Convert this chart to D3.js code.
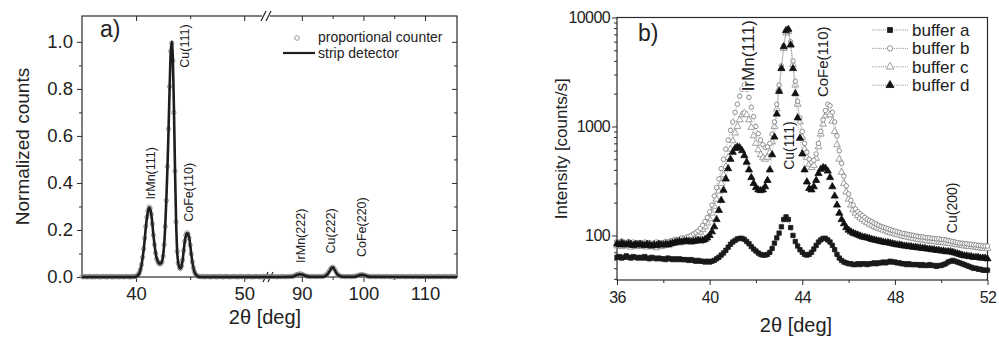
<!DOCTYPE html>
<html>
<head>
<meta charset="utf-8">
<script src="https://cdn.jsdelivr.net/npm/d3@7"></script>
<style>
  body { margin: 0; background: #fff; }
  text { font-family: "Liberation Sans", Arial, sans-serif; fill: #222; }
</style>
</head>
<body>
<div id="chart"></div>
<script>
// ---------- panel a) data ----------
// strip detector curve, [2theta, normalized counts]
var stripLeft = [[35, 0], [39.9, 0], [40.0, .002], [40.1, .004], [40.2, .008], [40.3, .015], [40.4, .03], [40.5, .05],
  [40.6, .08], [40.7, .115], [40.8, .16], [40.9, .21], [41.0, .25], [41.1, .28], [41.2, .295], [41.3, .29], [41.4, .27],
  [41.5, .23], [41.6, .18], [41.7, .14], [41.8, .105], [41.9, .08], [42.0, .068], [42.1, .06], [42.2, .057], [42.3, .058],
  [42.4, .066], [42.5, .09], [42.6, .14], [42.7, .22], [42.8, .33], [42.9, .46], [43.0, .62], [43.1, .8], [43.2, .95],
  [43.3, 1.0], [43.4, .93], [43.5, .72], [43.6, .46], [43.7, .24], [43.8, .11], [43.9, .06], [44.0, .042], [44.1, .036],
  [44.2, .045], [44.3, .07], [44.4, .11], [44.5, .15], [44.6, .175], [44.7, .186], [44.8, .185], [44.9, .17], [45.0, .14],
  [45.1, .1], [45.2, .066], [45.3, .04], [45.4, .022], [45.5, .012], [45.6, .006], [45.7, .003], [45.8, .001], [46.0, 0], [52.2, 0]];
var stripRight = [[84.5, 0], [88.4, .001], [88.8, .004], [89.2, .009], [89.6, .012], [90.0, .011], [90.4, .007], [90.8, .003],
  [91.4, .001], [93.4, .001], [93.8, .004], [94.2, .012], [94.5, .025], [94.8, .038], [95.0, .041], [95.2, .036], [95.5, .022],
  [95.8, .01], [96.2, .004], [96.8, .001], [98.6, .001], [99.0, .004], [99.4, .008], [99.8, .009], [100.2, .007], [100.6, .003],
  [101.2, .001], [115.2, 0]];

// proportional counter, left part: 35.0 .. 52.2 in 0.1 deg steps
var counterLeftStart = 35, counterLeftStep = 0.1;
var counterLeft = [
  .002, 0, .003, .001, .002, 0, .001, .003, .002, 0,
  .001, .002, 0, .003, .001, .002, .001, 0, .002, .001,
  .003, .001, .002, 0, .001, .002, .003, .001, 0, .002,
  .001, .002, .001, .003, 0, .002, .001, .002, .001, 0,
  .002, .003, .001, .002, 0, .001, .002, .001, .003, .002,
  .004, .006, .01, .018, .032, .052, .083, .12, .165, .215,
  .255, .283, .298, .292, .268, .226, .178, .138, .102, .078,
  .066, .058, .055, .057, .065, .088, .138, .215, .325, .47,
  .63, .81, .96, .995, .92, .7, .45, .235, .108, .058,
  .04, .035, .046, .072, .112, .152, .178, .188, .183, .166,
  .136, .098, .064, .039, .022, .012, .007, .004, .003, .002,
  .001, .003, .002, 0, .002, .001, .003, .002, .001, 0,
  .002, .001, .003, .002, 0, .001, .002, .003, .001, .002,
  .001, 0, .002, .003, .001, .002, .001, 0, .002, .001,
  .003, .002, .001, .002, 0, .001, .003, .002, .001, .002,
  .002, .001, 0, .002, .003, .001, .002, .001, 0, .002,
  .001, .003, .002, .001, .002, 0, .001, .002, .003, .001,
  .002, .001, .002];

// proportional counter, right part: 84.5 .. 115.0 in 0.25 deg steps
var counterRightStart = 84.5, counterRightStep = 0.25;
var counterRight = [
  .002, .001, .003, .002, .001, .002, 0, .002, .001, .003,
  .002, .001, .002, .001, .003, .002, .003, .005, .008, .011,
  .013, .013, .012, .009, .006, .004, .003, .002, .001, .003,
  .002, .001, .002, .003, .001, .002, .003, .006, .01, .018,
  .028, .038, .042, .036, .024, .013, .007, .004, .002, .003,
  .001, .002, .003, .002, .001, .002, .003, .004, .006, .008,
  .009, .01, .009, .007, .005, .003, .002, .001, .003, .002,
  .001, .002, .003, .001, .002, .002, .001, .003, .002, .001,
  .002, 0, .002, .003, .001, .002, .001, .003, .002, .001,
  .002, .001, .003, .002, .001, .002, .003, .001, .002, .001,
  .002, .003, .001, .002, .001, .002, .003, .001, .002, .001,
  .003, .002, .001, .002, .001, .003, .002, .001, .002, .003,
  .002, .001, .003];

var yTicksA = [0, 0.2, 0.4, 0.6, 0.8, 1.0];
var xTicksALeft = [40, 50];
var xTicksARight = [90, 100, 110];
var peakLabelsA = [
  { text: "IrMn(111)", x: 41.4, y: 0.33 },
  { text: "Cu(111)", x: 44.55, y: 0.89 },
  { text: "CoFe(110)", x: 44.85, y: 0.235 },
  { text: "IrMn(222)", x: 89.8, y: 0.06 },
  { text: "Cu(222)", x: 94.8, y: 0.1 },
  { text: "CoFe(220)", x: 99.7, y: 0.085 }
];

// ---------- panel b) data ----------
// 2theta from 36.0 to 52.0 in 0.1 deg steps, intensity in counts/s
var angleStart = 36, angleStep = 0.1;
var bufferA = [
  63, 64, 62, 63, 65, 63, 62, 64, 63, 62,
  63, 62, 64, 62, 61, 63, 62, 61, 62, 61,
  61, 60, 62, 61, 60, 61, 60, 61, 60, 60,
  60, 59, 60, 59, 58, 59, 58, 58, 57, 58,
  57, 58, 59, 61, 63, 66, 69, 73, 78, 83,
  87, 90, 93, 94, 94, 92, 88, 84, 79, 75,
  72, 69, 67, 66, 66, 67, 70, 76, 85, 95,
  105, 120, 140, 148, 140, 118, 100, 88, 80, 74,
  70, 67, 66, 67, 70, 75, 81, 87, 91, 94,
  94, 91, 87, 81, 74, 67, 62, 59, 57, 56,
  55, 55, 54, 54, 55, 54, 55, 55, 54, 55,
  55, 56, 55, 56, 56, 57, 56, 57, 58, 57,
  57, 56, 56, 55, 55, 54, 55, 54, 54, 54,
  54, 53, 54, 53, 53, 54, 53, 53, 52, 53,
  53, 54, 55, 57, 58, 59, 58, 57, 56, 55,
  54, 53, 52, 51, 50, 50, 49, 49, 48, 48,
  48];
var bufferB = [
  88, 86, 89, 87, 85, 88, 86, 87, 85, 86,
  86, 84, 87, 85, 86, 84, 85, 87, 86, 85,
  86, 88, 87, 89, 90, 92, 91, 93, 95, 94,
  96, 98, 100, 103, 106, 110, 116, 124, 134, 146,
  165, 190, 230, 275, 330, 410, 500, 620, 750, 920,
  1100, 1350, 1600, 1900, 2200, 2400, 2200, 1850, 1500, 1230,
  1000, 860, 750, 680, 640, 650, 700, 850, 1100, 1600,
  2400, 3600, 5500, 7500, 7700, 6000, 4000, 2600, 1700, 1200,
  900, 700, 580, 500, 470, 490, 560, 700, 900, 1150,
  1400, 1600, 1550, 1350, 1100, 820, 600, 460, 350, 285,
  240, 210, 190, 175, 165, 158, 152, 146, 141, 137,
  134, 130, 127, 124, 121, 119, 117, 115, 113, 111,
  110, 108, 107, 105, 104, 103, 102, 101, 100, 99,
  98, 97, 97, 96, 95, 95, 94, 94, 93, 93,
  92, 92, 91, 90, 89, 88, 87, 86, 85, 85,
  84, 84, 83, 83, 82, 82, 81, 81, 80, 80,
  80];
var bufferC = [
  80, 82, 79, 81, 83, 80, 78, 81, 79, 80,
  81, 79, 80, 78, 80, 82, 79, 77, 80, 79,
  80, 81, 83, 82, 84, 85, 86, 85, 87, 88,
  89, 90, 92, 95, 98, 102, 107, 113, 120, 130,
  142, 160, 185, 215, 255, 300, 360, 430, 520, 620,
  740, 870, 1000, 1150, 1280, 1330, 1280, 1150, 980, 820,
  700, 610, 550, 515, 500, 520, 580, 720, 1000, 1450,
  2200, 3400, 5200, 7200, 7400, 5600, 3700, 2400, 1600, 1100,
  800, 620, 520, 450, 420, 440, 510, 650, 850, 1050,
  1250, 1350, 1280, 1120, 900, 680, 500, 380, 300, 250,
  215, 190, 172, 160, 152, 145, 140, 135, 131, 127,
  124, 121, 118, 116, 114, 112, 110, 108, 106, 105,
  103, 102, 101, 99, 98, 97, 96, 95, 94, 93,
  92, 91, 91, 90, 89, 89, 88, 88, 87, 87,
  86, 86, 85, 85, 84, 84, 83, 82, 82, 81,
  80, 80, 79, 79, 78, 78, 77, 77, 76, 76,
  76];
var bufferD = [
  84, 82, 85, 83, 82, 84, 83, 81, 83, 82,
  83, 82, 81, 83, 82, 80, 82, 81, 83, 82,
  82, 83, 82, 84, 85, 86, 87, 88, 87, 88,
  89, 88, 87, 88, 89, 90, 89, 90, 92, 95,
  100, 108, 120, 140, 170, 210, 260, 330, 410, 500,
  580, 630, 650, 640, 600, 540, 470, 400, 340, 300,
  275, 262, 258, 262, 280, 320, 400, 550, 800, 1300,
  2100, 3400, 5400, 7600, 7800, 5600, 3400, 2000, 1200, 780,
  560, 400, 310, 270, 262, 280, 320, 370, 405, 420,
  415, 390, 340, 280, 230, 190, 160, 140, 128, 118,
  112, 108, 105, 103, 101, 99, 97, 96, 95, 94,
  92, 91, 90, 89, 88, 87, 86, 86, 85, 84,
  83, 82, 82, 81, 80, 80, 79, 79, 78, 78,
  77, 77, 76, 76, 75, 75, 74, 74, 73, 73,
  72, 72, 71, 71, 71, 70, 69, 68, 67, 66,
  65, 65, 64, 64, 63, 63, 63, 62, 62, 62,
  61];

var seriesNamesB = ["buffer a", "buffer b", "buffer c", "buffer d"];
var xTicksB = [36, 40, 44, 48, 52];
var yTicksB = [100, 1000, 10000];
var peakLabelsB = [
  { text: "IrMn(111)", x: 41.66, y: 2100, size: 17 },
  { text: "Cu(111)", x: 43.43, y: 400, size: 14 },
  { text: "CoFe(110)", x: 44.9, y: 1860, size: 15 },
  { text: "Cu(200)", x: 50.46, y: 105, size: 14 }
];

// ---------- svg ----------
var svgWidth = 999, svgHeight = 344;
var svg = d3.select("#chart").append("svg")
  .attr("width", svgWidth)
  .attr("height", svgHeight);

var ink = "#2a2a2a";

// ================= panel a =================
var frameA = { left: 82, right: 457, top: 16, bottom: 277 };
var breakX = 268;

var xLeft = d3.scaleLinear().domain([35, 52.2]).range([frameA.left, breakX]);
var xRight = d3.scaleLinear().domain([84.5, 115.2]).range([breakX, frameA.right]);
var yA = d3.scaleLinear().domain([0, 1.11]).range([frameA.bottom, frameA.top]);

var gA = svg.append("g");

// axes
var leftAxisA = d3.axisLeft(yA).tickValues(yTicksA).tickFormat(d3.format(".1f")).tickSize(5).tickPadding(4);
gA.append("g").attr("transform", `translate(${frameA.left},0)`).call(leftAxisA);
gA.append("g").attr("transform", `translate(${frameA.left},0)`)
  .call(d3.axisLeft(yA).tickValues(d3.range(0.1, 1.1, 0.2)).tickSize(3).tickFormat(""));
gA.append("g").attr("transform", `translate(${frameA.right},0)`)
  .call(d3.axisLeft(yA).tickValues(yTicksA).tickSize(5).tickFormat(""));
gA.append("g").attr("transform", `translate(${frameA.right},0)`)
  .call(d3.axisLeft(yA).tickValues(d3.range(0.1, 1.1, 0.2)).tickSize(3).tickFormat(""));

[[xLeft, xTicksALeft, [45]], [xRight, xTicksARight, [95, 105]]].forEach(function(p) {
  gA.append("g").attr("transform", `translate(0,${frameA.bottom})`)
    .call(d3.axisBottom(p[0]).tickValues(p[1]).tickSize(5).tickPadding(5));
  gA.append("g").attr("transform", `translate(0,${frameA.bottom})`)
    .call(d3.axisBottom(p[0]).tickValues(p[2]).tickSize(3).tickFormat(""));
  gA.append("g").attr("transform", `translate(0,${frameA.top})`)
    .call(d3.axisBottom(p[0]).tickValues(p[1]).tickSize(5).tickFormat(""));
  gA.append("g").attr("transform", `translate(0,${frameA.top})`)
    .call(d3.axisBottom(p[0]).tickValues(p[2]).tickSize(3).tickFormat(""));
});

gA.selectAll(".domain").remove();
gA.selectAll(".tick line").attr("stroke", ink);
gA.selectAll(".tick text").attr("font-size", 18.5).attr("fill", ink)
  .style("font-family", "'Liberation Sans', Arial, sans-serif");

// frame with broken x axis
gA.append("rect")
  .attr("x", frameA.left).attr("y", frameA.top)
  .attr("width", frameA.right - frameA.left).attr("height", frameA.bottom - frameA.top)
  .attr("fill", "none").attr("stroke", ink).attr("stroke-width", 1.2);
[[frameA.top, -2], [frameA.bottom, 0]].forEach(function(b) {
  var cx = breakX + b[1];
  gA.append("rect").attr("x", cx - 4).attr("y", b[0] - 2).attr("width", 8).attr("height", 4).attr("fill", "#fff");
  [-2.5, 2.5].forEach(function(off) {
    gA.append("line")
      .attr("x1", cx + off - 2.5).attr("y1", b[0] + 5)
      .attr("x2", cx + off + 2.5).attr("y2", b[0] - 5)
      .attr("stroke", ink).attr("stroke-width", 1.2);
  });
});

// proportional counter markers
var counterPts = counterLeft.map(function(v, i) { return [counterLeftStart + i * counterLeftStep, v, xLeft]; })
  .concat(counterRight.map(function(v, i) { return [counterRightStart + i * counterRightStep, v, xRight]; }))
  .filter(function(d) { return d[0] <= d[2].domain()[1] + 1e-6; });

gA.append("g").selectAll("circle")
  .data(counterPts)
  .enter().append("circle")
  .attr("cx", d => d[2](d[0]))
  .attr("cy", d => yA(d[1]))
  .attr("r", 2.1)
  .attr("fill", "none")
  .attr("stroke", "#8a8a8a")
  .attr("stroke-width", 0.9);

// strip detector line
[[stripLeft, xLeft], [stripRight, xRight]].forEach(function(p) {
  var line = d3.line().x(d => p[1](d[0])).y(d => yA(d[1])).curve(d3.curveMonotoneX);
  gA.append("path").datum(p[0])
    .attr("d", line)
    .attr("fill", "none")
    .attr("stroke", "#1e1e1e")
    .attr("stroke-width", 2.6)
    .attr("stroke-linejoin", "round");
});

// peak labels
gA.selectAll(".peakA")
  .data(peakLabelsA)
  .enter().append("text")
  .attr("class", "peakA")
  .attr("transform", d => `translate(${(d.x < 70 ? xLeft : xRight)(d.x) + 4},${yA(d.y)}) rotate(-90)`)
  .attr("font-size", 12.5)
  .text(d => d.text);

// legend
gA.append("circle").attr("cx", 297).attr("cy", 38).attr("r", 2.3)
  .attr("fill", "none").attr("stroke", "#8a8a8a").attr("stroke-width", 0.9);
gA.append("text").attr("x", 318).attr("y", 42).attr("font-size", 14).text("proportional counter");
gA.append("line").attr("x1", 283).attr("x2", 315).attr("y1", 53).attr("y2", 53)
  .attr("stroke", "#1e1e1e").attr("stroke-width", 2.2);
gA.append("text").attr("x", 318).attr("y", 58).attr("font-size", 14).text("strip detector");

gA.append("text").attr("x", 100).attr("y", 37).attr("font-size", 23).text("a)");

// axis titles
gA.append("text")
  .attr("transform", `translate(29,${(frameA.top + frameA.bottom) / 2}) rotate(-90)`)
  .attr("text-anchor", "middle")
  .attr("font-size", 19)
  .text("Normalized counts");
gA.append("text")
  .attr("x", 265).attr("y", 324)
  .attr("text-anchor", "middle")
  .attr("font-size", 20)
  .text("2θ [deg]");

// ================= panel b =================
var frameB = { left: 617, right: 987.5, top: 17.5, bottom: 280 };
var xB = d3.scaleLinear().domain([36, 52]).range([frameB.left, frameB.right]);
var yB = d3.scaleLog().domain([39, 10000]).range([frameB.bottom, frameB.top]);

var gB = svg.append("g");

gB.append("g").attr("transform", `translate(0,${frameB.bottom})`)
  .call(d3.axisBottom(xB).tickValues(xTicksB).tickSize(5).tickPadding(7));
gB.append("g").attr("transform", `translate(0,${frameB.bottom})`)
  .call(d3.axisBottom(xB).tickValues([38, 42, 46, 50]).tickSize(3).tickFormat(""));
gB.append("g").attr("transform", `translate(${frameB.left},0)`)
  .call(d3.axisLeft(yB).tickValues(yTicksB).tickFormat(d3.format("d")).tickSize(5).tickPadding(2));
var minorB = [];
[10, 100, 1000].forEach(function(dec) {
  for (var k = 2; k <= 9; k++) if (dec * k >= 39 && dec * k < 10000) minorB.push(dec * k);
});
gB.append("g").attr("transform", `translate(${frameB.left},0)`)
  .call(d3.axisLeft(yB).tickValues(minorB).tickSize(3).tickFormat(""));

gB.selectAll(".domain").remove();
gB.selectAll(".tick line").attr("stroke", ink);
gB.selectAll(".tick text").attr("fill", ink).attr("font-size", 16).attr("letter-spacing", -0.6)
  .style("font-family", "'Liberation Sans', Arial, sans-serif");

gB.append("rect")
  .attr("x", frameB.left).attr("y", frameB.top)
  .attr("width", frameB.right - frameB.left).attr("height", frameB.bottom - frameB.top)
  .attr("fill", "none").attr("stroke", ink).attr("stroke-width", 1.2);

var styles = [
  { data: bufferA, symbol: d3.symbolSquare, size: 19, fill: "#1a1a1a", stroke: "#1a1a1a" },
  { data: bufferB, symbol: d3.symbolCircle, size: 16, fill: "#fff", stroke: "#777" },
  { data: bufferC, symbol: d3.symbolTriangle, size: 20, fill: "#fff", stroke: "#8a8a8a" },
  { data: bufferD, symbol: d3.symbolTriangle, size: 22, fill: "#111", stroke: "#111" }
];

var plotB = gB.append("g");
[2, 1, 3, 0].forEach(function(si) {
  var s = styles[si];
  var pts = s.data.map(function(v, i) { return [angleStart + i * angleStep, v]; });
  var line = d3.line().x(d => xB(d[0])).y(d => yB(d[1]));
  plotB.append("path").datum(pts)
    .attr("d", line)
    .attr("fill", "none")
    .attr("stroke", "#777")
    .attr("stroke-width", 0.6)
    .attr("stroke-dasharray", "1,1.5");
  plotB.append("g").selectAll("path")
    .data(pts)
    .enter().append("path")
    .attr("transform", d => `translate(${xB(d[0])},${yB(d[1])})`)
    .attr("d", d3.symbol().type(s.symbol).size(s.size))
    .attr("fill", s.fill)
    .attr("stroke", s.stroke)
    .attr("stroke-width", 0.8);
});

// peak labels (white halo so they read over the markers)
gB.selectAll(".peakB")
  .data(peakLabelsB)
  .enter().append("text")
  .attr("class", "peakB")
  .attr("transform", d => `translate(${xB(d.x) + d.size * 0.36},${yB(d.y)}) rotate(-90)`)
  .attr("font-size", d => d.size)
  .attr("stroke", "#fff")
  .attr("stroke-width", 2.5)
  .attr("paint-order", "stroke")
  .text(d => d.text);

// legend
var legB = gB.append("g").selectAll("g")
  .data(seriesNamesB)
  .enter().append("g")
  .attr("transform", (d, i) => `translate(872,${30 + i * 18.4})`);
legB.append("line")
  .attr("x1", 0).attr("x2", 36)
  .attr("stroke", "#555").attr("stroke-width", 0.7).attr("stroke-dasharray", "1,1.2");
legB.append("path")
  .attr("transform", "translate(18,0)")
  .attr("d", (d, i) => d3.symbol().type(styles[i].symbol).size(styles[i].size + 6)())
  .attr("fill", (d, i) => styles[i].fill)
  .attr("stroke", (d, i) => styles[i].stroke)
  .attr("stroke-width", 0.8);
legB.append("text")
  .attr("x", 40).attr("y", 6)
  .attr("font-size", 17)
  .text(d => d);

gB.append("text").attr("x", 638).attr("y", 41).attr("font-size", 23).text("b)");

gB.append("text")
  .attr("transform", `translate(567,${(frameB.top + frameB.bottom) / 2}) rotate(-90)`)
  .attr("text-anchor", "middle")
  .attr("font-size", 17)
  .text("Intensity [counts/s]");
gB.append("text")
  .attr("x", 796).attr("y", 332)
  .attr("text-anchor", "middle")
  .attr("font-size", 20)
  .text("2θ [deg]");
</script>
</body>
</html>
